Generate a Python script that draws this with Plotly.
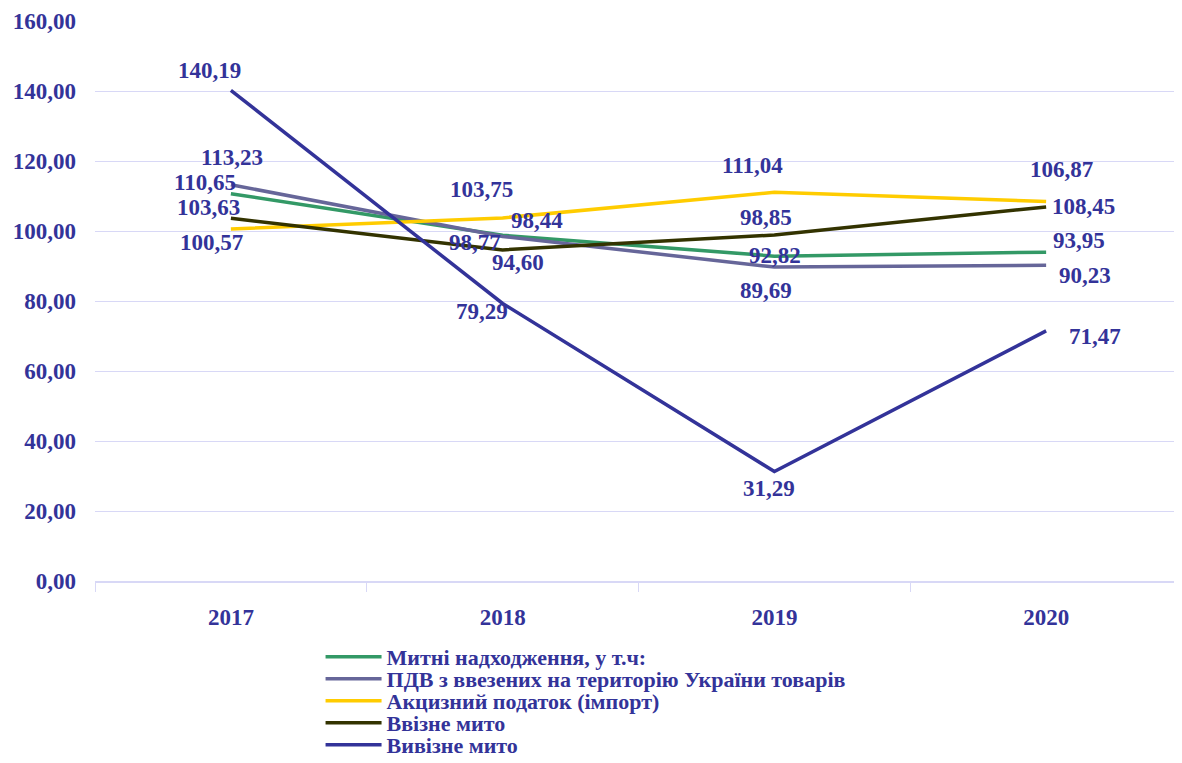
"""Customs revenue growth indices, 2017-2020 (% to previous year)."""

import plotly.graph_objects as go

YEARS = ["2017", "2018", "2019", "2020"]

NAMES = [
    "Митні надходження, у т.ч:",
    "ПДВ з ввезених на територію України товарів",
    "Акцизний податок (імпорт)",
    "Ввізне мито",
    "Вивізне мито",
]

CUSTOMS_TOTAL = [110.65, 98.77, 92.82, 93.95]
VAT_IMPORT = [113.23, 98.44, 89.69, 90.23]
EXCISE_IMPORT = [100.57, 103.75, 111.04, 108.45]
IMPORT_DUTY = [103.63, 94.60, 98.85, 106.87]
EXPORT_DUTY = [140.19, 79.29, 31.29, 71.47]

SERIES = [CUSTOMS_TOTAL, VAT_IMPORT, EXCISE_IMPORT, IMPORT_DUTY, EXPORT_DUTY]
COLORS = ["#339966", "#666699", "#FFCC00", "#333300", "#333399"]

# label offsets in px (dx, dy up) for each series/year, as placed in the source chart
LABEL_SHIFT = [
    [(-26, 11), (-28, -7), (1, 1), (33, 12)],
    [(1, 27), (34, 16), (-8, -23), (39, -10)],
    [(-19, -13), (-21, 28), (-22, 27), (37, -5)],
    [(-22, 11), (15, -13), (-8, 18), (15, 37)],
    [(-21, 20), (-21, -8), (-5, -17), (49, -6)],
]

FONT = "Liberation Serif, Times New Roman, serif"
INK = "#333399"
GRID = "#D8D8F6"
BOLD = dict(family=FONT, size=23, color=INK, weight="bold")

fig = go.Figure()
for i, (name, vals, color) in enumerate(zip(NAMES, SERIES, COLORS)):
    fig.add_trace(go.Scatter(x=YEARS, y=vals, name=name, mode="lines",
                             line=dict(color=color, width=3.5),
                             legend="legend" if i == 0 else f"legend{i + 1}"))

for vals, shifts in zip(SERIES, LABEL_SHIFT):
    for k, (v, (dx, dy)) in enumerate(zip(vals, shifts)):
        fig.add_annotation(x=k, y=v, xref="x", yref="y",
                           text=f"{v:.2f}".replace(".", ","),
                           showarrow=False, xshift=dx, yshift=dy, font=BOLD)

# one legend box per row so the rows sit as tightly as in the source
legends = {}
for i in range(len(NAMES)):
    key = "legend" if i == 0 else f"legend{i + 1}"
    legends[key] = dict(x=0.2075, y=-0.0982 - i * 0.0393, xanchor="left", yanchor="top",
                        bgcolor="rgba(0,0,0,0)",
                        font=dict(family=FONT, size=22, color=INK, weight="bold"),
                        itemwidth=56)

# page body has an 8px margin, so the figure is sized to fit the window
fig.update_layout(
    width=1174, height=746,
    margin=dict(l=87, r=0, t=13, b=173, autoexpand=False),
    plot_bgcolor="white", paper_bgcolor="white",
    font=dict(family=FONT, color=INK, size=23),
    showlegend=True,
    separators=", ",
    **legends,
)
fig.update_xaxes(
    type="category", range=[-0.5, 3.5], showgrid=False,
    showline=True, linecolor=GRID, linewidth=1.5,
    ticks="outside", tickson="boundaries", ticklen=9, tickcolor=GRID,
    tickfont=BOLD, ticklabelstandoff=15,
)
fig.update_yaxes(
    range=[0, 160], dtick=20, tickformat=".2f",
    showgrid=True, gridcolor=GRID, gridwidth=1.2, zeroline=False,
    tickfont=BOLD, ticklabelstandoff=18,
)

fig.write_html("out.html")
